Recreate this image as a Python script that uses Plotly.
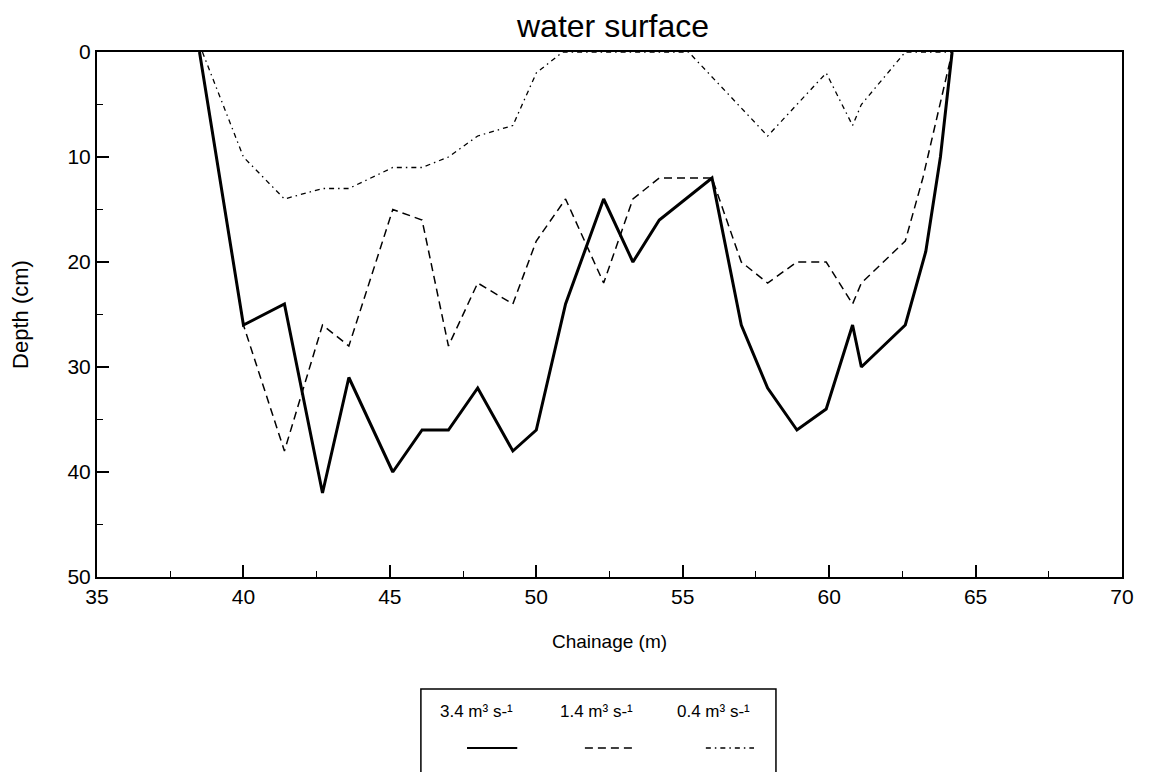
import plotly.graph_objects as go

# chainage (m) / depth (cm)
chainage_34 = [38.5, 40.0, 41.4, 42.7, 43.6, 45.1, 46.1, 47.0, 48.0, 49.2, 50.0, 51.0, 52.3,
               53.3, 54.2, 56.0, 57.0, 57.9, 58.9, 59.9, 60.8, 61.1, 62.6, 63.3, 63.8, 64.2]
depth_34 = [0, 26, 24, 42, 31, 40, 36, 36, 32, 38, 36, 24, 14,
            20, 16, 12, 26, 32, 36, 34, 26, 30, 26, 19, 10, 0]

chainage_14 = [38.5, 40.0, 41.4, 42.7, 43.6, 45.1, 46.1, 47.0, 48.0, 49.2, 50.0, 51.0, 52.3,
               53.3, 54.2, 56.0, 57.0, 57.9, 58.9, 59.9, 60.8, 61.1, 62.6, 63.2, 64.2]
depth_14 = [0, 26, 38, 26, 28, 15, 16, 28, 22, 24, 18, 14, 22,
            14, 12, 12, 20, 22, 20, 20, 24, 22, 18, 12, 0]

chainage_04 = [38.6, 40.0, 41.4, 42.7, 43.6, 45.1, 46.1, 47.0, 48.0, 49.2, 50.0, 50.9,
               55.2, 57.9, 59.9, 60.8, 61.1, 62.6, 64.2]
depth_04 = [0, 10, 14, 13, 13, 11, 11, 10, 8, 7, 2, 0,
            0, 8, 2, 7, 5, 0, 0]

series_names = ["3.4 m³ s-¹", "1.4 m³ s-¹", "0.4 m³ s-¹"]

FONT = "Liberation Sans, Arial, sans-serif"

styles = [
    dict(width=3, dash="solid"),
    dict(width=1.5, dash="8px,5px"),
    dict(width=1.3, dash="5px,4px,1.5px,4px"),
]

fig = go.Figure()
for xs, ys, name, st in zip([chainage_34, chainage_14, chainage_04],
                            [depth_34, depth_14, depth_04], series_names, styles):
    fig.add_trace(go.Scatter(
        x=xs, y=ys, name=name, mode="lines",
        line=dict(color="black", width=st["width"], dash=st["dash"]),
        showlegend=False,
    ))

# hand-made legend: label above a line sample, inside an open box
legend_box = dict(x0=0.316, x1=0.6624, y0=-0.42, y1=-0.2133)
label_x = [0.370, 0.487, 0.601]
sample_x = [(0.361, 0.410), (0.476, 0.525), (0.594, 0.641)]

fig.add_shape(type="rect", xref="paper", yref="paper", line=dict(color="black", width=1.5),
              **legend_box)
for name, lx, (sx0, sx1), st in zip(series_names, label_x, sample_x, styles):
    fig.add_annotation(x=lx, y=-0.257, xref="paper", yref="paper", text=name,
                       showarrow=False, xanchor="center", yanchor="middle",
                       font=dict(family=FONT, size=17, color="black"))
    fig.add_shape(type="line", xref="paper", yref="paper", x0=sx0, x1=sx1,
                  y0=-0.3257, y1=-0.3257,
                  line=dict(color="black", width=min(st["width"], 2), dash=st["dash"]))

# the page body adds an 8px offset, so margins are trimmed by that much
fig.update_layout(
    width=1156, height=772,
    margin=dict(l=89, r=42, t=44, b=203),
    paper_bgcolor="white", plot_bgcolor="white",
    font=dict(family=FONT, color="black", size=21),
    title=dict(text="water surface", x=0.5234, xanchor="center", y=1.0, yanchor="top",
               pad=dict(t=7), font=dict(family=FONT, size=32, color="black")),
)
fig.update_xaxes(
    range=[35, 70], tickmode="linear", tick0=35, dtick=5,
    ticks="inside", ticklen=12, tickwidth=1.5, tickcolor="black",
    minor=dict(ticks="inside", dtick=2.5, ticklen=6, tickwidth=1.2, tickcolor="black"),
    showline=True, linecolor="black", linewidth=2, mirror=True,
    showgrid=False, zeroline=False,
    tickfont=dict(size=21),
    title=dict(text="Chainage (m)", font=dict(size=19), standoff=27),
)
fig.update_yaxes(
    range=[50, 0], tickmode="linear", tick0=0, dtick=10,
    ticks="inside", ticklen=12, tickwidth=1.5, tickcolor="black",
    minor=dict(ticks="inside", dtick=5, ticklen=6, tickwidth=1.2, tickcolor="black"),
    showline=True, linecolor="black", linewidth=2, mirror=True,
    showgrid=False, zeroline=False,
    tickfont=dict(size=21),
    title=dict(text="Depth (cm)", font=dict(size=22), standoff=33),
)

fig.write_html("out.html")
